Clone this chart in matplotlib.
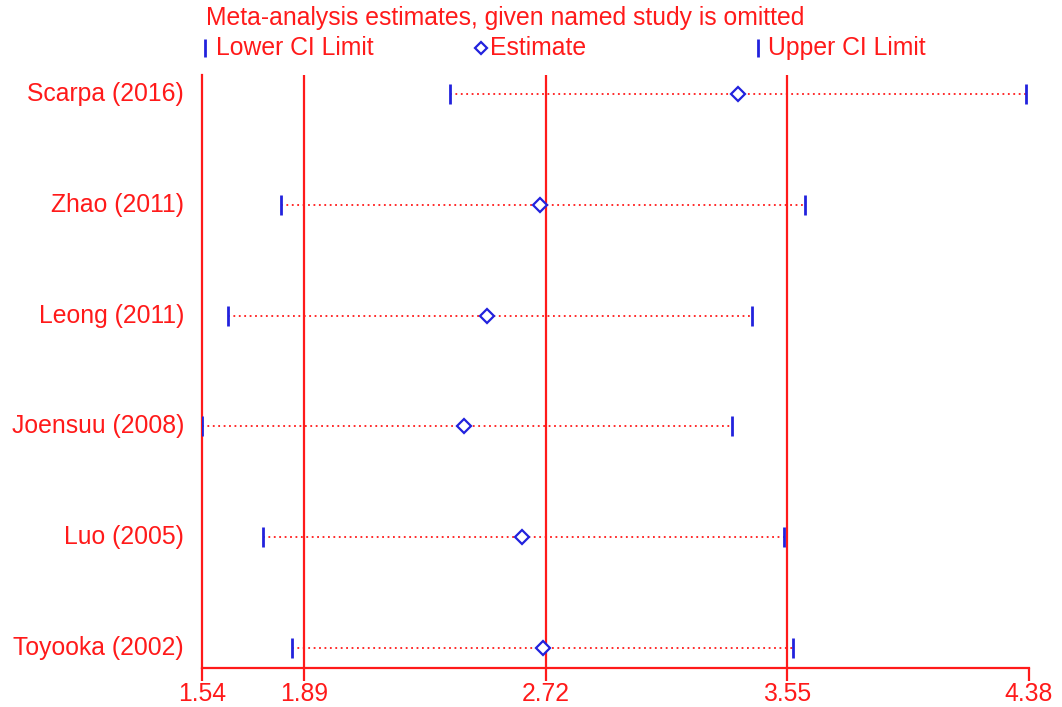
import matplotlib.pyplot as plt
import matplotlib.transforms as mtransforms

plt.rcParams['font.family'] = ['Liberation Sans', 'DejaVu Sans']

studies = ["Scarpa (2016)", "Zhao (2011)", "Leong (2011)",
           "Joensuu (2008)", "Luo (2005)", "Toyooka (2002)"]
lower = [2.39, 1.81, 1.63, 1.54, 1.75, 1.85]
estimate = [3.38, 2.70, 2.52, 2.44, 2.64, 2.71]
upper = [4.37, 3.61, 3.43, 3.36, 3.54, 3.57]
ticks = [1.54, 1.89, 2.72, 3.55, 4.38]
tick_labels = ["1.54", "1.89", "2.72", "3.55", "4.38"]

RED = '#ff1a1a'
BLUE = '#2222dd'
FS = 17.8

W, H = 1062, 707
fig = plt.figure(figsize=(W / 100, H / 100), dpi=100)
ax = fig.add_axes([202 / W, (H - 668) / H, 827 / W, (668 - 75) / H])

n = len(studies)
ypos = [n - 1 - i for i in range(n)]

# reference lines at the inner ticks
for t in ticks[1:-1]:
    ax.axvline(t, color=RED, lw=1.6, zorder=1)

for y, lo, est, hi in zip(ypos, lower, estimate, upper):
    ax.plot([lo, hi], [y, y], color=RED, lw=1.3, ls=(0, (1, 2.0)), zorder=2)
    ax.plot([lo], [y], marker='|', ms=15, mew=2, color=BLUE, zorder=3)
    ax.plot([hi], [y], marker='|', ms=15, mew=2, color=BLUE, zorder=3)
    ax.plot([est], [y], marker='D', ms=7, mfc='white', mec=BLUE, mew=1.6, zorder=4)

ax.set_xlim(1.54, 4.38)
ax.set_ylim(-0.18, n - 1 + 0.17)

ax.set_xticks(ticks)
ax.set_xticklabels(tick_labels, color=RED, fontsize=FS)
ax.tick_params(axis='x', direction='out', length=9, width=1.6, color=RED, pad=1)
ax.set_yticks([])
for s in ['top', 'right']:
    ax.spines[s].set_visible(False)
for s in ['left', 'bottom']:
    ax.spines[s].set_color(RED)
    ax.spines[s].set_linewidth(1.6)

trans = mtransforms.blended_transform_factory(ax.transAxes, ax.transData)
for y, name in zip(ypos, studies):
    ax.text(-18 / 827, y, name, transform=trans, ha='right', va='center',
            color=RED, fontsize=FS)

# header with key
fig.text(206 / W, 1 - 18 / H, "Meta-analysis estimates, given named study is omitted",
         color=RED, fontsize=FS, va='center', ha='left')
ky = 1 - 48 / H
fig.lines.append(plt.Line2D([205 / W], [ky], marker='|', ms=13, mew=2, color=BLUE,
                            transform=fig.transFigure))
fig.text(216 / W, ky, "Lower CI Limit", color=RED, fontsize=FS, va='center', ha='left')
fig.lines.append(plt.Line2D([481 / W], [ky], marker='D', ms=6, mfc='white', mec=BLUE,
                            mew=1.6, transform=fig.transFigure))
fig.text(490 / W, ky, "Estimate", color=RED, fontsize=FS, va='center', ha='left')
fig.lines.append(plt.Line2D([758 / W], [ky], marker='|', ms=13, mew=2, color=BLUE,
                            transform=fig.transFigure))
fig.text(768 / W, ky, "Upper CI Limit", color=RED, fontsize=FS, va='center', ha='left')

fig.savefig('out.png', dpi=100)
